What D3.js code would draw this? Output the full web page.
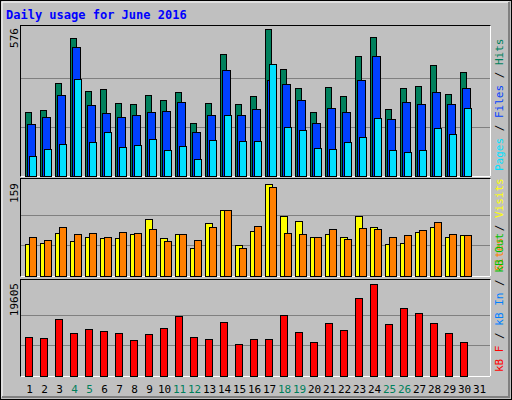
<!DOCTYPE html><html><head><meta charset="utf-8">
<script src="https://cdn.jsdelivr.net/npm/d3@7"></script>
<style>body{margin:0;background:#fff}svg{display:block}text{font-family:"DejaVu Sans Mono",monospace}</style></head><body>
<script>
const days=d3.range(1,32);
const hits=[251,260,364,541,334,341,286,282,317,298,329,208,286,478,282,313,576,419,345,251,349,313,470,545,263,345,353,435,321,407];
const files=[204,231,317,505,278,247,231,239,251,255,290,172,239,415,239,262,377,360,298,208,266,251,376,470,223,290,282,329,282,345];
const pages=[78,106,125,380,133,172,114,121,145,102,118,67,141,239,137,137,439,192,180,110,106,133,153,227,102,94,102,188,165,266];
const visits=[55,57,74,60,67,66,66,73,98,66,73,48,92,114,54,78,159,104,95,67,73,67,104,85,55,57,76,85,67,71];
const sites=[67,62,85,73,74,67,76,74,81,60,73,62,85,114,48,86,154,74,73,67,81,64,83,81,67,71,79,93,73,71];
const kbytes=[8228,8014,12092,9087,9946,9516,9087,7584,8872,10160,12736,8228,7799,11448,6726,7799,7799,12951,9302,7155,11233,9731,16600,19605,11019,14453,13380,11233,9087,7155];
const weekend=[4,5,11,12,18,19,25,26];
const W=512,H=400;
const svg=d3.select("body").append("svg").attr("width",W).attr("height",H);
svg.append("rect").attr("x",0).attr("y",0).attr("width",W).attr("height",H).attr("fill","#c0c0c0");
svg.append("rect").attr("x",0.5).attr("y",0.5).attr("width",W-1).attr("height",H-1).attr("fill","none").attr("stroke","#000");
svg.append("path").attr("d","M2,397V2H509").attr("stroke","#fff").attr("fill","none");
svg.append("path").attr("d","M2,397H509V2").attr("stroke","#808080").attr("stroke-width",2).attr("fill","none");
svg.append("text").attr("x",6).attr("y",19).attr("fill","#0000ff").attr("font-weight","bold").attr("font-size",12).text("Daily usage for June 2016");
const x=d3.scaleBand().domain(days).range([21,486]).paddingInner(0);
function panel(y0,y1,top,max){
  svg.append("rect").attr("x",20.5).attr("y",y0+0.5).attr("width",470).attr("height",y1-y0).attr("fill","#c0c0c0").attr("stroke","#000");
  svg.append("path").attr("d",`M20.5,${y1+0.5}H490.5V${y0+0.5}`).attr("stroke","#fff").attr("fill","none");
  const y=d3.scaleLinear().domain([0,max]).range([y1,top]);
  [1/3,2/3].forEach(f=>svg.append("line").attr("x1",21).attr("x2",490).attr("y1",Math.round(y(max*f))+0.5).attr("y2",Math.round(y(max*f))+0.5).attr("stroke","#808080"));
  svg.append("text").attr("transform",`translate(18,${top-1}) rotate(-90)`).attr("text-anchor","end").attr("font-size",11).text(max);
  return y;
}
function bars(data,y,off,w,col){
  svg.append("g").selectAll("rect").data(data).join("rect")
   .attr("x",(d,i)=>Math.round(x(i+1)+off)+0.5).attr("width",w)
   .attr("y",d=>Math.round(y(d))+0.5).attr("height",d=>y(0)-Math.round(y(d)))
   .attr("fill",col).attr("stroke","#000");
}
const y1=panel(25,176,29,576);
bars(hits,y1,4,6,"#00805c");bars(files,y1,6,8,"#0040ff");bars(pages,y1,8,7,"#00e0ff");
const y2=panel(178,276,184,159);
bars(visits,y2,4,7,"#ffff00");bars(sites,y2,8,7,"#ff8000");
const y3=panel(279,376,284,19605);
bars(kbytes,y3,4,7,"#ff0000");
svg.append("g").selectAll("text").data(days).join("text").attr("x",d=>x(d)+x.bandwidth()/2+1).attr("y",393)
 .attr("text-anchor","middle").attr("font-size",11).attr("fill",d=>weekend.includes(d)?"#00805c":"#000").text(d=>d);
function side(y,parts){
  const t=svg.append("text").attr("transform",`translate(503,${y}) rotate(-90)`).attr("font-size",11);
  parts.forEach(p=>t.append("tspan").attr("fill",p[1]).text(p[0]));
}
side(171,[["Pages","#00e0ff"],[" / ","#000"],["Files","#0040ff"],[" / ","#000"],["Hits","#00805c"]]);
side(271,[["Sites","#ff8000"],[" / ","#000"],["Visits","#ffff00"]]);
side(372,[["kB F","#ff0000"],[" / ","#000"],["kB In","#0080ff"],[" / ","#000"],["kB Out","#00c000"]]);
</script></body></html>
